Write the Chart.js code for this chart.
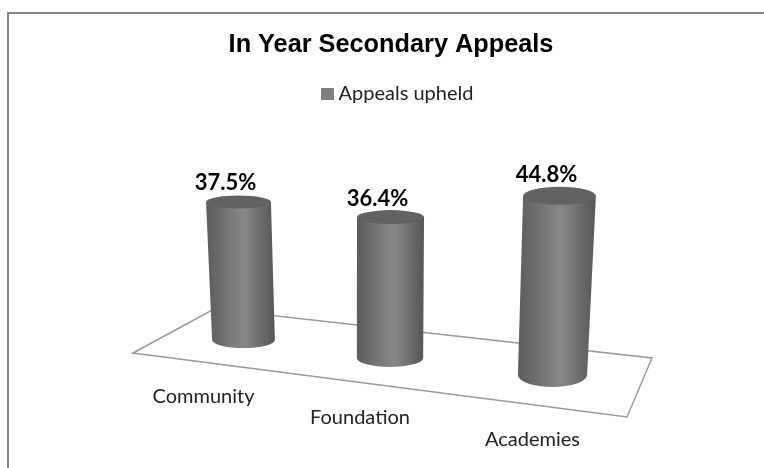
<!DOCTYPE html>
<html>
<head>
<meta charset="utf-8">
<title>In Year Secondary Appeals</title>
<script src="https://cdn.jsdelivr.net/npm/chart.js@4/dist/chart.umd.min.js"></script>
<style>
  html, body { margin: 0; padding: 0; background: #fff; }
  canvas { display: block; }
</style>
</head>
<body>
<canvas id="appeals" width="764" height="468"></canvas>
<script>
const categories = ['Community', 'Foundation', 'Academies']
const appealsUpheld = [37.5, 36.4, 44.8]
const seriesName = 'Appeals upheld'
const chartTitle = 'In Year Secondary Appeals'

// fake 3d: how each bar is pushed back on the floor
const depth = [
  { dx: 1, dy: -35, h: 0.915, wTop: 0.91, wBottom: 0.88, tilt: -5, ryTop: 6.5, ryBottom: 8, labelDy: -19, catDx: -40, catDy: 57 },
  { dx: -7.5, dy: -17, h: 0.963, wTop: 0.94, wBottom: 0.93, tilt: 0.5, ryTop: 7, ryBottom: 9, labelDy: -18, catDx: -30, catDy: 60 },
  { dx: 0, dy: 0, h: 0.995, wTop: 1.02, wBottom: 0.97, tilt: 7, ryTop: 9, ryBottom: 12, labelDy: -21, catDx: -20, catDy: 65 }
]
const floor = [[133, 353], [214, 309], [652, 358], [627, 417]]

// legend square as a small canvas, so the text can sit closer to it
const legendBox = document.createElement('canvas')
legendBox.width = 13
legendBox.height = 12
const legendCtx = legendBox.getContext('2d')
legendCtx.fillStyle = '#808080'
legendCtx.fillRect(0, 0, 13, 12)

function bodyGradient(ctx, left, right) {
  const g = ctx.createLinearGradient(left, 0, right, 0)
  g.addColorStop(0, '#5c5c5c')
  g.addColorStop(0.55, '#888888')
  g.addColorStop(1, '#565656')
  return g
}

const cylinders = {
  id: 'cylinders',
  afterLayout(chart) {
    // title and legend are not centred on the same x in the picture
    chart.titleBlock.left -= 6.5
    chart.titleBlock.right -= 6.5
    chart.legend.left += 2
    chart.legend.right += 2
  },
  beforeDraw(chart) {
    // outer frame, only top and left are in the picture
    const ctx = chart.ctx
    ctx.save()
    ctx.strokeStyle = '#868686'
    ctx.lineWidth = 2
    ctx.beginPath()
    ctx.moveTo(8, 468)
    ctx.lineTo(8, 13)
    ctx.lineTo(764, 13)
    ctx.stroke()
    ctx.restore()
  },
  beforeDatasetsDraw(chart) {
    const ctx = chart.ctx
    ctx.save()
    ctx.strokeStyle = '#9a9a9a'
    ctx.lineWidth = 1.5
    ctx.beginPath()
    floor.forEach((p, i) => i ? ctx.lineTo(p[0], p[1]) : ctx.moveTo(p[0], p[1]))
    ctx.closePath()
    ctx.stroke()
    ctx.restore()
  },
  beforeDatasetDraw(chart) {
    const ctx = chart.ctx
    const bars = chart.getDatasetMeta(0).data
    ctx.save()
    bars.forEach((bar, i) => {
      const d = depth[i]
      const baseY = bar.base + d.dy
      const topY = baseY - (bar.base - bar.y) * d.h
      const cxBottom = bar.x + d.dx
      const cxTop = cxBottom + d.tilt
      const rTop = bar.width * d.wTop / 2
      const rBottom = bar.width * d.wBottom / 2

      ctx.fillStyle = bodyGradient(ctx, Math.min(cxTop - rTop, cxBottom - rBottom), Math.max(cxTop + rTop, cxBottom + rBottom))
      ctx.beginPath()
      ctx.moveTo(cxTop - rTop, topY)
      ctx.lineTo(cxBottom - rBottom, baseY)
      ctx.ellipse(cxBottom, baseY, rBottom, d.ryBottom, 0, Math.PI, 0, true)
      ctx.lineTo(cxTop + rTop, topY)
      ctx.closePath()
      ctx.fill()

      ctx.fillStyle = '#626262'
      ctx.beginPath()
      ctx.ellipse(cxTop, topY, rTop, d.ryTop, 0, 0, Math.PI * 2)
      ctx.fill()

      ctx.fillStyle = '#000'
      ctx.font = 'bold 22px Lato'
      ctx.textAlign = 'center'
      ctx.textBaseline = 'middle'
      ctx.fillText(appealsUpheld[i].toFixed(1) + '%', cxTop - 13, topY + d.labelDy)

      ctx.fillStyle = '#222'
      ctx.font = '20px Lato'
      ctx.fillText(categories[i], cxBottom + d.catDx, baseY + d.catDy)
    })
    ctx.restore()
    return false
  }
}

new Chart(document.getElementById('appeals'), {
  type: 'bar',
  data: {
    labels: categories,
    datasets: [{
      label: seriesName,
      data: appealsUpheld,
      backgroundColor: '#808080',
      barPercentage: 0.46,
      categoryPercentage: 1
    }]
  },
  options: {
    responsive: false,
    animation: false,
    layout: { padding: { left: 165, right: 134, bottom: 93, top: 0 } },
    scales: {
      x: { display: false },
      y: { display: false, min: 0, max: 65 }
    },
    plugins: {
      tooltip: { enabled: false },
      title: {
        display: true,
        text: chartTitle,
        color: '#000',
        font: { family: 'Liberation Sans', size: 25.3, weight: 'bold', lineHeight: 1.2 },
        padding: { top: 30, bottom: 3.4 }
      },
      legend: {
        position: 'top',
        labels: {
          color: '#222',
          usePointStyle: true,
          pointStyle: legendBox,
          pointStyleWidth: 3,
          boxHeight: 12,
          padding: 20,
          font: { family: 'Lato', size: 20 }
        }
      }
    }
  },
  plugins: [cylinders]
})
</script>
</body>
</html>
